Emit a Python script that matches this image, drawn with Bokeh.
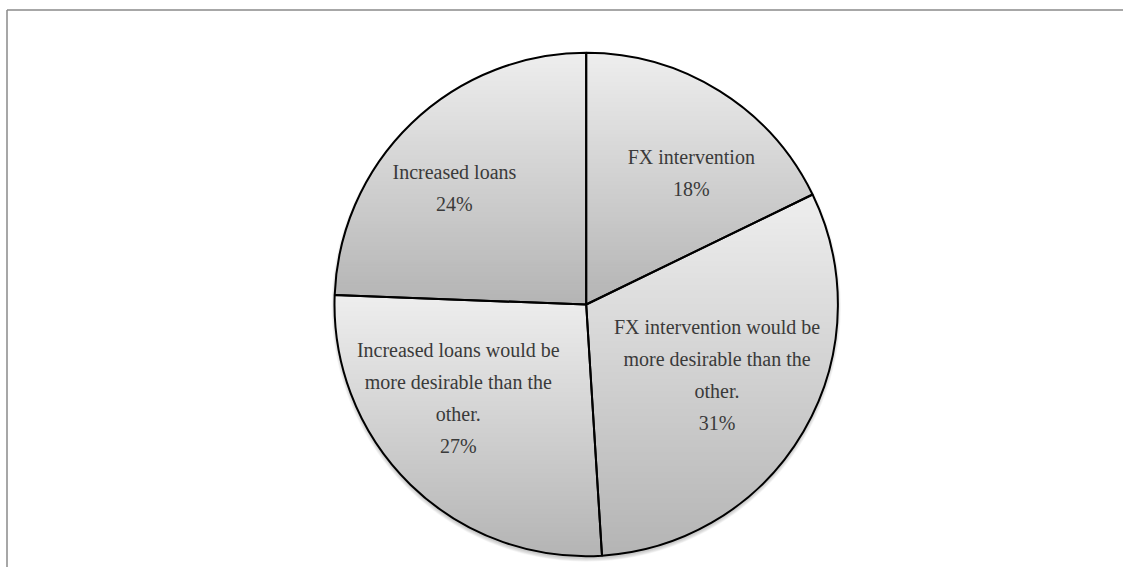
import textwrap
import numpy as np
from bokeh.plotting import figure
from bokeh.models import Range1d
from bokeh.core.properties import value
from bokeh.embed import file_html
from bokeh.resources import INLINE

# ---- data (clockwise from 12 o'clock) ----
categories = [
    "FX intervention",
    "FX intervention would be more desirable than the other.",
    "Increased loans would be more desirable than the other.",
    "Increased loans",
]
shares = [17.8, 31.2, 26.6, 24.4]
pct_labels = [f"{round(v)}%" for v in shares]

# ---- layout / style ----
W, H = 1123, 567
R = 251.7
CX, CY = 585.7, 304.0          # pie centre within the canvas (px from top-left)
TOP_RGB = np.array([238, 238, 238])
BOT_RGB = np.array([180, 180, 180])
# label placement relative to slice bisector (radius fraction, angle shift in degrees)
LABEL_RFRAC = [0.67, 0.59, 0.63, 0.70]
LABEL_DANG = [-6.5, 2.0, -9.5, 4.5]

x0 = -CX
y1 = CY
p = figure(width=W, height=H, x_range=Range1d(x0, x0 + W), y_range=Range1d(y1 - H, y1),
           output_backend="svg", toolbar_location=None, x_axis_type=None, y_axis_type=None,
           min_border=0)
p.grid.visible = False
p.outline_line_color = None
p.background_fill_color = "white"
p.border_fill_color = "white"

frac = np.array(shares) / sum(shares)
cum = np.concatenate([[0.0], np.cumsum(frac)])
end_ang = np.pi / 2 - 2 * np.pi * cum[:-1]
start_ang = np.pi / 2 - 2 * np.pi * cum[1:]

# chart-area border (only the top and left edges fall inside the canvas)
bx, by = x0 + 6.5, y1 - 9.5
p.multi_line(xs=[[bx, x0 + W + 5], [bx, bx]], ys=[[by, by], [by, y1 - H - 5]],
             line_color="#8a8a8a", line_width=1.5)

# soft shadow under pie
for k in range(6):
    p.circle(x=[0], y=[-2.5], radius=R + 0.6 * k, fill_color="black", fill_alpha=0.035,
             line_color=None)

# base fill
p.wedge(x=0, y=0, radius=R, start_angle=start_ang, end_angle=end_ang,
        fill_color="#d2d2d2", line_color=None)


def clip(pts, lo, hi):
    def half(poly, inside, ycut):
        out = []
        n = len(poly)
        for j in range(n):
            c = poly[j]
            pr = poly[j - 1]
            ci, pi_ = inside(c[1]), inside(pr[1])
            if ci:
                if not pi_:
                    t = (ycut - pr[1]) / (c[1] - pr[1])
                    out.append((pr[0] + t * (c[0] - pr[0]), ycut))
                out.append(c)
            elif pi_:
                t = (ycut - pr[1]) / (c[1] - pr[1])
                out.append((pr[0] + t * (c[0] - pr[0]), ycut))
        return out
    q = half(pts, lambda y: y >= lo, lo)
    if not q:
        return q
    return half(q, lambda y: y <= hi, hi)


xs, ys, cols = [], [], []
for i in range(len(shares)):
    a = np.linspace(start_ang[i], end_ang[i], 240)
    px = np.concatenate([[0.0], R * np.cos(a)])
    py = np.concatenate([[0.0], R * np.sin(a)])
    poly = list(zip(px, py))
    ytop, ybot = py.max(), py.min()
    h = 1.5
    nb = int(np.ceil((ytop - ybot) / h))
    for k in range(nb):
        hi = ytop - k * h
        lo = max(hi - h - 0.8, ybot - 1)
        q = clip(poly, lo, hi)
        if len(q) < 3:
            continue
        t = (k + 0.5) / nb
        c = (TOP_RGB + (BOT_RGB - TOP_RGB) * t).round().astype(int)
        xs.append([pt[0] for pt in q])
        ys.append([pt[1] for pt in q])
        cols.append("#%02x%02x%02x" % tuple(c))

p.patches(xs, ys, fill_color=cols, line_color=None)

# outlines
p.wedge(x=0, y=0, radius=R, start_angle=start_ang, end_angle=end_ang,
        fill_color=None, line_color="black", line_width=2)

# labels
mid = (start_ang + end_ang) / 2 + np.radians(LABEL_DANG)
lr = np.array(LABEL_RFRAC) * R
lx = lr * np.cos(mid)
ly = lr * np.sin(mid)
texts = ["\n".join(textwrap.wrap(c, 24) + [pl]) for c, pl in zip(categories, pct_labels)]
p.text(x=lx, y=ly, text=texts, text_align="center", text_baseline="middle",
       text_font=value("Liberation Serif"), text_font_size="20px", text_color="#3a3a3a",
       text_line_height=1.45)

open("out.html", "w").write(file_html(p, INLINE))
